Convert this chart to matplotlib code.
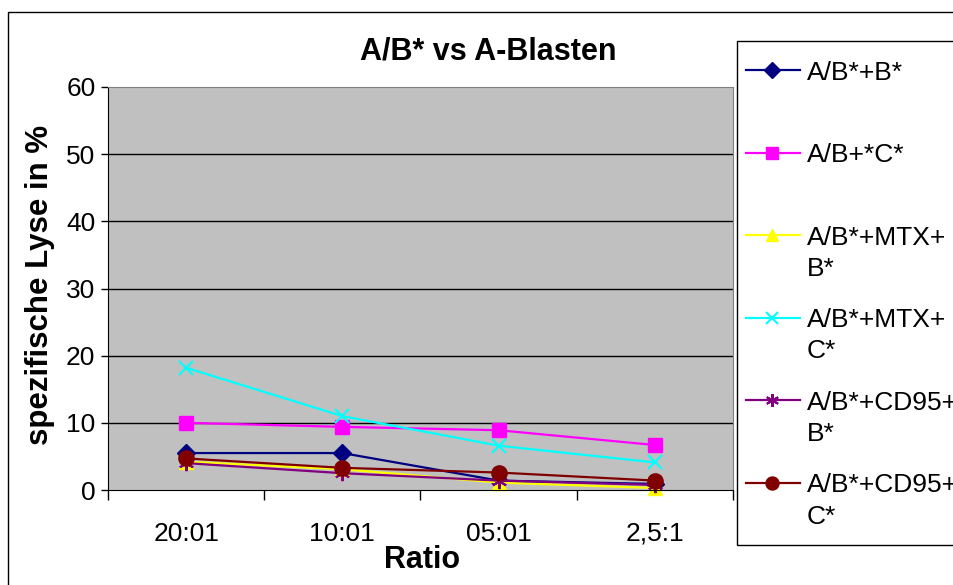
"""
Excel-style line chart: specific lysis (%) of A-blasts by effector:target ratio.
"""
import matplotlib.pyplot as plt
from matplotlib.lines import Line2D
from matplotlib.patches import Rectangle

plt.rcParams['font.family'] = ['Liberation Sans', 'DejaVu Sans']

# ---- data ----
categories = ['20:01', '10:01', '05:01', '2,5:1']
ab_b = [5.5, 5.5, 1.4, 0.9]
ab_c = [10.0, 9.4, 8.9, 6.7]
ab_mtx_b = [4.2, 3.1, 1.1, 0.3]
ab_mtx_c = [18.2, 11.0, 6.6, 4.1]
ab_cd95_b = [4.0, 2.5, 1.4, 0.75]
ab_cd95_c = [4.7, 3.3, 2.6, 1.4]

labels = ['A/B*+B*', 'A/B+*C*', 'A/B*+MTX+\nB*', 'A/B*+MTX+\nC*',
          'A/B*+CD95+\nB*', 'A/B*+CD95+\nC*']
y_ticks = [0, 10, 20, 30, 40, 50, 60]

# Excel 97 default palette
STYLES = [
    dict(color='#000080', marker='D', ms=9.5),
    dict(color='#FF00FF', marker='s', ms=10.5),
    dict(color='#FFFF00', marker='^', ms=10.5),
    dict(color='#00FFFF', marker='x', ms=10, mew=1.5),
    dict(color='#800080', marker=(6, 2, 0), ms=11, mew=1.5),
    dict(color='#800000', marker='o', ms=11),
]
series = [ab_b, ab_c, ab_mtx_b, ab_mtx_c, ab_cd95_b, ab_cd95_c]

W, H = 954, 585
fig = plt.figure(figsize=(W / 100, H / 100), dpi=100)


def fx(px):
    return px / W


def fy(py):
    return 1 - py / H


ax = fig.add_axes([fx(108), fy(490), fx(733) - fx(108), fy(87) - fy(490)])
ax.set_facecolor('#C0C0C0')

xs = list(range(len(categories)))
for vals, st in zip(series, STYLES):
    ax.plot(xs, vals, color=st['color'], lw=1.6, marker=st['marker'],
            ms=st['ms'], mew=st.get('mew', 1), mfc=st['color'], mec=st['color'],
            clip_on=False)

ax.set_xlim(-0.5, len(categories) - 0.5)
ax.set_ylim(0, 60)
ax.set_yticks(y_ticks)
ax.set_yticklabels([str(t) for t in y_ticks], fontsize=19)
ax.set_xticks(xs)
ax.set_xticklabels(categories, fontsize=19)
ax.set_xticks([x - 0.5 for x in range(len(categories) + 1)], minor=True)
ax.tick_params(axis='x', which='major', length=0, pad=23)
ax.tick_params(axis='x', which='minor', length=7, width=1, direction='out')
ax.tick_params(axis='y', length=5, width=1, direction='out', pad=4)
for t in y_ticks[1:-1]:
    ax.axhline(t, color='black', lw=1, zorder=0.5)
for side in ('top', 'right'):
    ax.spines[side].set_color('#808080')
for side in ('left', 'bottom'):
    ax.spines[side].set_color('black')

fig.text(fx(488), fy(52), 'A/B* vs A-Blasten', ha='center', va='center',
         fontsize=22, fontweight='bold')
fig.text(fx(40), fy(285), 'spezifische Lyse in %', ha='center', va='center',
         rotation=90, fontsize=22.5, fontweight='bold')
fig.text(fx(422), fy(560), 'Ratio', ha='center', va='center',
         fontsize=22, fontweight='bold')

# chart frame (cut off at right / bottom like the source)
fig.patches.append(Rectangle((fx(8), -0.1), 2, fy(12) + 0.1, transform=fig.transFigure,
                             fill=False, ec='black', lw=1))

# Excel-like legend, drawn by hand
fig.patches.append(Rectangle((fx(737), fy(545)), 1, fy(41) - fy(545),
                             transform=fig.transFigure, fill=False, ec='black', lw=1))
for i, (lab, st) in enumerate(zip(labels, STYLES)):
    y = 70 + 82.6 * i
    fig.add_artist(Line2D([fx(746), fx(800)], [fy(y), fy(y)], color=st['color'], lw=1.6))
    fig.add_artist(Line2D([fx(772)], [fy(y)], color=st['color'], marker=st['marker'],
                          ms=st['ms'] * 0.85, mew=st.get('mew', 1), mfc=st['color'],
                          mec=st['color']))
    for j, line in enumerate(lab.split('\n')):
        fig.text(fx(807), fy(y + 31 * j), line, ha='left', va='center_baseline',
                 fontsize=19)

fig.savefig('out.png', dpi=100)
